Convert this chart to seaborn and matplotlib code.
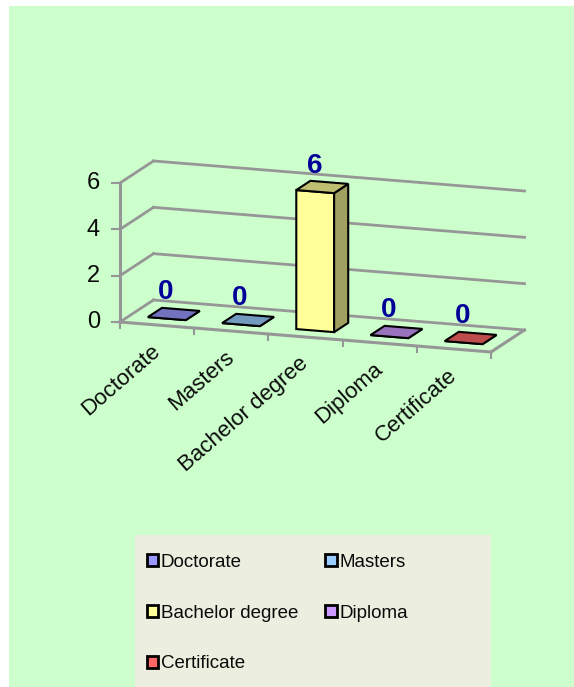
import matplotlib
matplotlib.use("Agg")
import matplotlib.pyplot as plt
from matplotlib.patches import Rectangle, Polygon, Patch
from matplotlib.transforms import Affine2D
import seaborn as sns
import pandas as pd

categories = ["Doctorate", "Masters", "Bachelor degree", "Diploma", "Certificate"]
values = [0, 0, 6, 0, 0]
yticks = [0, 2, 4, 6]
front_colors = ["#9999FF", "#99CCFF", "#FFFF99", "#CC99FF", "#FF6666"]
top_colors = ["#7272BE", "#7299BE", "#BFBF72", "#9972BE", "#BE4C4C"]
side_colors = ["#666699", "#668899", "#A0A060", "#886699", "#994444"]

W, H = 574, 687
sns.set_theme(style="white")
plt.rcParams["font.family"] = ["Liberation Sans", "DejaVu Sans"]

fig = plt.figure(figsize=(W / 100, H / 100), dpi=100, facecolor="white")
fig.add_artist(Rectangle((9 / W, 0), 1 - 9 / W, 1 - 6 / H, transform=fig.transFigure,
                         facecolor="#CCFFCC", edgecolor="none", zorder=-5))
fig.add_artist(Rectangle((135 / W, 0), (491 - 135) / W, (687 - 535) / H, transform=fig.transFigure,
                         facecolor="#ECEFDF", edgecolor="none", zorder=-4))

# axes cover the figure; scale: px per category / per value unit
PX_U, PX_V = 74.2, 23.17
X0, Y0 = 120, 322           # pixel position of floor front-left corner
DX, DY = 33.5, 22.0         # pixel depth offset of the back wall
SLOPE = 6.0                 # pixels the floor falls per category
ax = fig.add_axes([0, 0, 1, 1])
ax.patch.set_alpha(0)
ulo = -0.5 - X0 / PX_U
vlo = -(H - Y0) / PX_V
ax.set_xlim(ulo, ulo + W / PX_U)
ax.set_ylim(vlo, vlo + H / PX_V)


def proj(u, v, d=0.0):
    """Oblique projection of (category, value, depth 0-1) into the axes' data space."""
    return (u + DX * d / PX_U, v + (DY * d - SLOPE * (u + 0.5)) / PX_V)


shear = Affine2D.from_values(1, -SLOPE / PX_V, 0, 1,
                             DX * 0.29 / PX_U, (DY * 0.29 - SLOPE * 0.5) / PX_V)

df = pd.DataFrame({"cat": categories, "val": values})
sns.barplot(data=df, x="cat", y="val", hue="cat", palette=front_colors, legend=False,
            width=0.51, saturation=1, ax=ax, zorder=5)
ax.set_xlim(ulo, ulo + W / PX_U)
ax.set_ylim(vlo, vlo + H / PX_V)
ax.set_xlabel("")
ax.set_ylabel("")
ax.set_axis_off()

GRID = "#969696"
TEXT = "#0A0A0A"
umin, umax = -0.5, len(categories) - 0.5


def line(p, q, lw=2.0, z=1):
    ax.plot([p[0], q[0]], [p[1], q[1]], color=GRID, lw=lw, zorder=z,
            solid_capstyle="projecting", clip_on=False)


for t in yticks:
    line(proj(umin, t, 0), proj(umin, t, 1))
    line(proj(umin, t, 1), proj(umax, t, 1))
    line(proj(umin, t, 0), (proj(umin, t, 0)[0] - 8 / PX_U, proj(umin, t, 0)[1]), lw=1.5)
    ax.text(proj(umin, t, 0)[0] - 20 / PX_U, proj(umin, t, 0)[1] - 0.5 / PX_V, str(t),
            fontsize=17, ha="right", va="center", color=TEXT)
line(proj(umin, 0, 0), proj(umin, yticks[-1], 0), lw=2.2)
line(proj(umin, 0, 0), proj(umax, 0, 0), lw=2.2)
line(proj(umax, 0, 0), proj(umax, 0, 1), lw=2.2)
for i in range(len(categories) + 1):
    u = umin + i
    p = proj(u, 0, 0)
    line(p, (p[0], p[1] - 6 / PX_V), lw=1.5)

# faces of the bars, derived from the seaborn bars
D0, D1 = 0.29, 0.71
for i, bar in enumerate(ax.patches):
    x0, w, h = bar.get_x(), bar.get_width(), bar.get_height()
    x1 = x0 + w
    bar.set_transform(shear + ax.transData)
    bar.set_edgecolor("black")
    bar.set_linewidth(1.5)
    bar.set_joinstyle("miter")
    bar.set_clip_on(False)
    side = [proj(x1, 0, D0), proj(x1, 0, D1), proj(x1, h, D1), proj(x1, h, D0)]
    top = [proj(x0, h, D0), proj(x1, h, D0), proj(x1, h, D1), proj(x0, h, D1)]
    ax.add_patch(Polygon(side, closed=True, facecolor=side_colors[i], edgecolor="black", lw=1.5,
                         joinstyle="miter", zorder=5, clip_on=False))
    ax.add_patch(Polygon(top, closed=True, facecolor=top_colors[i], edgecolor="black", lw=1.5,
                         joinstyle="miter", zorder=6, clip_on=False))
    c = proj(x0 + w / 2, h, 0.5)
    ax.text(c[0] - 8 / PX_U, c[1] + (22 if h == 0 else 21) / PX_V, str(values[i]), fontsize=20,
            fontweight="bold", color="#000099", ha="center", va="center", zorder=8)
    b = proj(x0 + w / 2, 0, 0)
    ax.annotate(categories[i], xy=b, xytext=(-5, -11.5), textcoords="offset points", rotation=41,
                rotation_mode="anchor", ha="right", va="top", fontsize=16, color=TEXT)

handles = [Patch(facecolor=c, edgecolor="black", linewidth=2) for c in front_colors]
order = [0, 2, 4, 1, 3]
ax.legend([handles[i] for i in order], [categories[i] for i in order], ncol=2, frameon=False,
          labelcolor=TEXT, loc="upper left", bbox_to_anchor=(147 / W, 1 - 554 / H),
          bbox_transform=fig.transFigure,
          fontsize=13.5, handlelength=0.59, handleheight=0.59, handletextpad=0.15,
          labelspacing=1.8, columnspacing=1.45, borderaxespad=0, borderpad=0)

fig.savefig("out.png", dpi=100, facecolor="white")
